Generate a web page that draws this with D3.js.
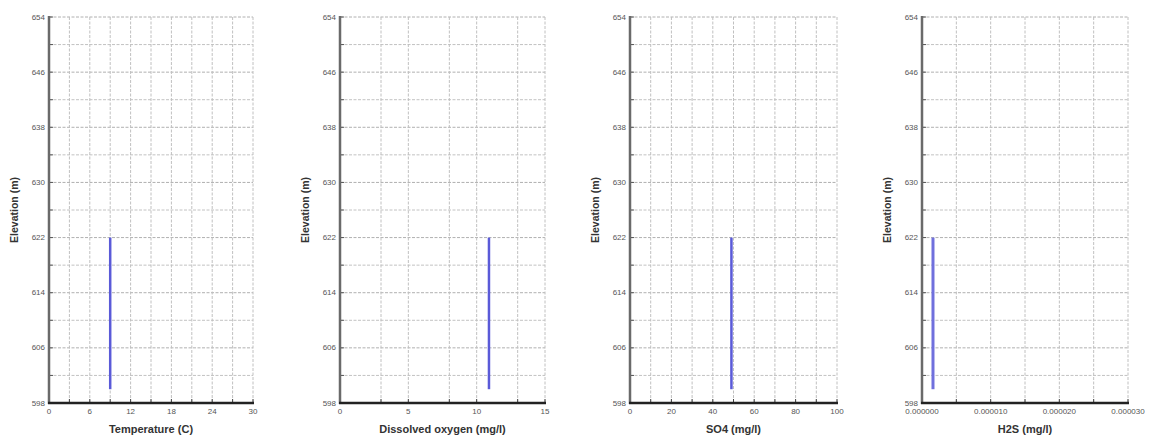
<!DOCTYPE html>
<html><head><meta charset="utf-8">
<script src="https://cdn.jsdelivr.net/npm/d3@7"></script>
<style>body{margin:0;background:#fff}svg{display:block}</style>
</head><body><svg id="c" width="1149" height="440"></svg>
<script>
// ---- data ----
const elevation = [622, 600];
const temperature = [9, 9];
const dissolvedOxygen = [10.9, 10.9];
const so4 = [49, 49];
const h2s = [0.0000016, 0.0000016];

const yDomain = [598, 654];
const yLabelTicks = [598, 606, 614, 622, 630, 638, 646, 654];
const yGridTicks = [598, 602, 606, 610, 614, 618, 622, 626, 630, 634, 638, 642, 646, 650, 654];

const panels = [
  {title: "Temperature (C)", values: temperature, domain: [0, 30],
   labelTicks: [0, 6, 12, 18, 24, 30], gridTicks: [0,3,6,9,12,15,18,21,24,27,30], fmt: d => String(d), x0: 49, x1: 253},
  {title: "Dissolved oxygen (mg/l)", values: dissolvedOxygen, domain: [0, 15],
   labelTicks: [0, 5, 10, 15], gridTicks: [0,3,5,8,10,13,15], fmt: d => String(d), x0: 340, x1: 545},
  {title: "SO4 (mg/l)", values: so4, domain: [0, 100],
   labelTicks: [0, 20, 40, 60, 80, 100], gridTicks: [0,10,20,30,40,50,60,70,80,90,100], fmt: d => String(d), x0: 630, x1: 837},
  {title: "H2S (mg/l)", values: h2s, domain: [0, 0.00003],
   labelTicks: [0, 0.00001, 0.00002, 0.00003], gridTicks: [0,0.000005,0.00001,0.000015,0.00002,0.000025,0.00003], fmt: d => d.toFixed(6), x0: 922, x1: 1128}
];

const svg = d3.select("#c");
const plotTop = 17, plotBottom = 403;
const y = d3.scaleLinear().domain(yDomain).range([plotBottom, plotTop]);
const font = "Liberation Sans, Arial, sans-serif";

panels.forEach((p, i) => {
  const g = svg.append("g");
  const x = d3.scaleLinear().domain(p.domain).range([p.x0, p.x1]);

  // horizontal grid
  g.selectAll(".hg").data(yGridTicks.filter(d => d !== yDomain[0])).enter().append("line")
    .attr("x1", p.x0).attr("x2", p.x1).attr("y1", d => y(d)).attr("y2", d => y(d))
    .attr("stroke", d => yLabelTicks.includes(d) ? "#b0b0b0" : "#c2c2c2")
    .attr("stroke-width", 1).attr("stroke-dasharray", "3,1.5");
  // vertical grid
  g.selectAll(".vg").data(p.gridTicks.filter(d => d !== p.domain[0])).enter().append("line")
    .attr("x1", d => x(d)).attr("x2", d => x(d)).attr("y1", plotTop).attr("y2", plotBottom)
    .attr("stroke", "#c0c0c0").attr("stroke-width", 1).attr("stroke-dasharray", "3,1.5");

  // left axis ticks (inward)
  g.selectAll(".lt").data(yGridTicks).enter().append("line")
    .attr("x1", p.x0).attr("x2", p.x0 + 4).attr("y1", d => y(d)).attr("y2", d => y(d))
    .attr("stroke", "#555").attr("stroke-width", 1);
  // bottom axis ticks (inward)
  g.selectAll(".bt").data(p.gridTicks).enter().append("line")
    .attr("x1", d => x(d)).attr("x2", d => x(d)).attr("y1", plotBottom).attr("y2", plotBottom - 4)
    .attr("stroke", "#444").attr("stroke-width", 1);

  // axis lines
  g.append("line").attr("x1", p.x0).attr("x2", p.x0).attr("y1", plotTop - 1).attr("y2", plotBottom + 1)
    .attr("stroke", "#6a6a6a").attr("stroke-width", 2.5);
  g.append("line").attr("x1", p.x0 - 1).attr("x2", p.x1 + 1).attr("y1", plotBottom).attr("y2", plotBottom)
    .attr("stroke", "#222").attr("stroke-width", 2.5);

  // y tick labels
  g.selectAll(".yl").data(yLabelTicks).enter().append("text")
    .attr("x", p.x0 - 4).attr("y", d => y(d)).attr("dy", "0.33em")
    .attr("text-anchor", "end").attr("font-family", font)
    .attr("font-size", 8).attr("fill", "#555").text(d => d);
  // x tick labels
  g.selectAll(".xl").data(p.labelTicks).enter().append("text")
    .attr("x", d => x(d)).attr("y", 414)
    .attr("text-anchor", "middle").attr("font-family", font)
    .attr("font-size", 8).attr("fill", "#555").text(d => p.fmt(d));

  // titles
  g.append("text").attr("x", (p.x0 + p.x1) / 2).attr("y", 433)
    .attr("text-anchor", "middle").attr("font-family", font)
    .attr("font-weight", "bold").attr("font-size", 11).attr("fill", "#333").text(p.title);
  g.append("text").attr("transform", `translate(${p.x0 - 31},${210}) rotate(-90)`)
    .attr("text-anchor", "middle").attr("font-family", font)
    .attr("font-weight", "bold").attr("font-size", 10.5).attr("fill", "#333").text("Elevation (m)");

  // profile line
  const line = d3.line().x(d => x(d[0])).y(d => y(d[1]));
  g.append("path").datum(p.values.map((v, k) => [v, elevation[k]]))
    .attr("d", line).attr("fill", "none")
    .attr("stroke", i === 3 ? "#7070dd" : "#5a5ad8").attr("stroke-width", i === 3 ? 3 : 2.5);
});
</script></body></html>
